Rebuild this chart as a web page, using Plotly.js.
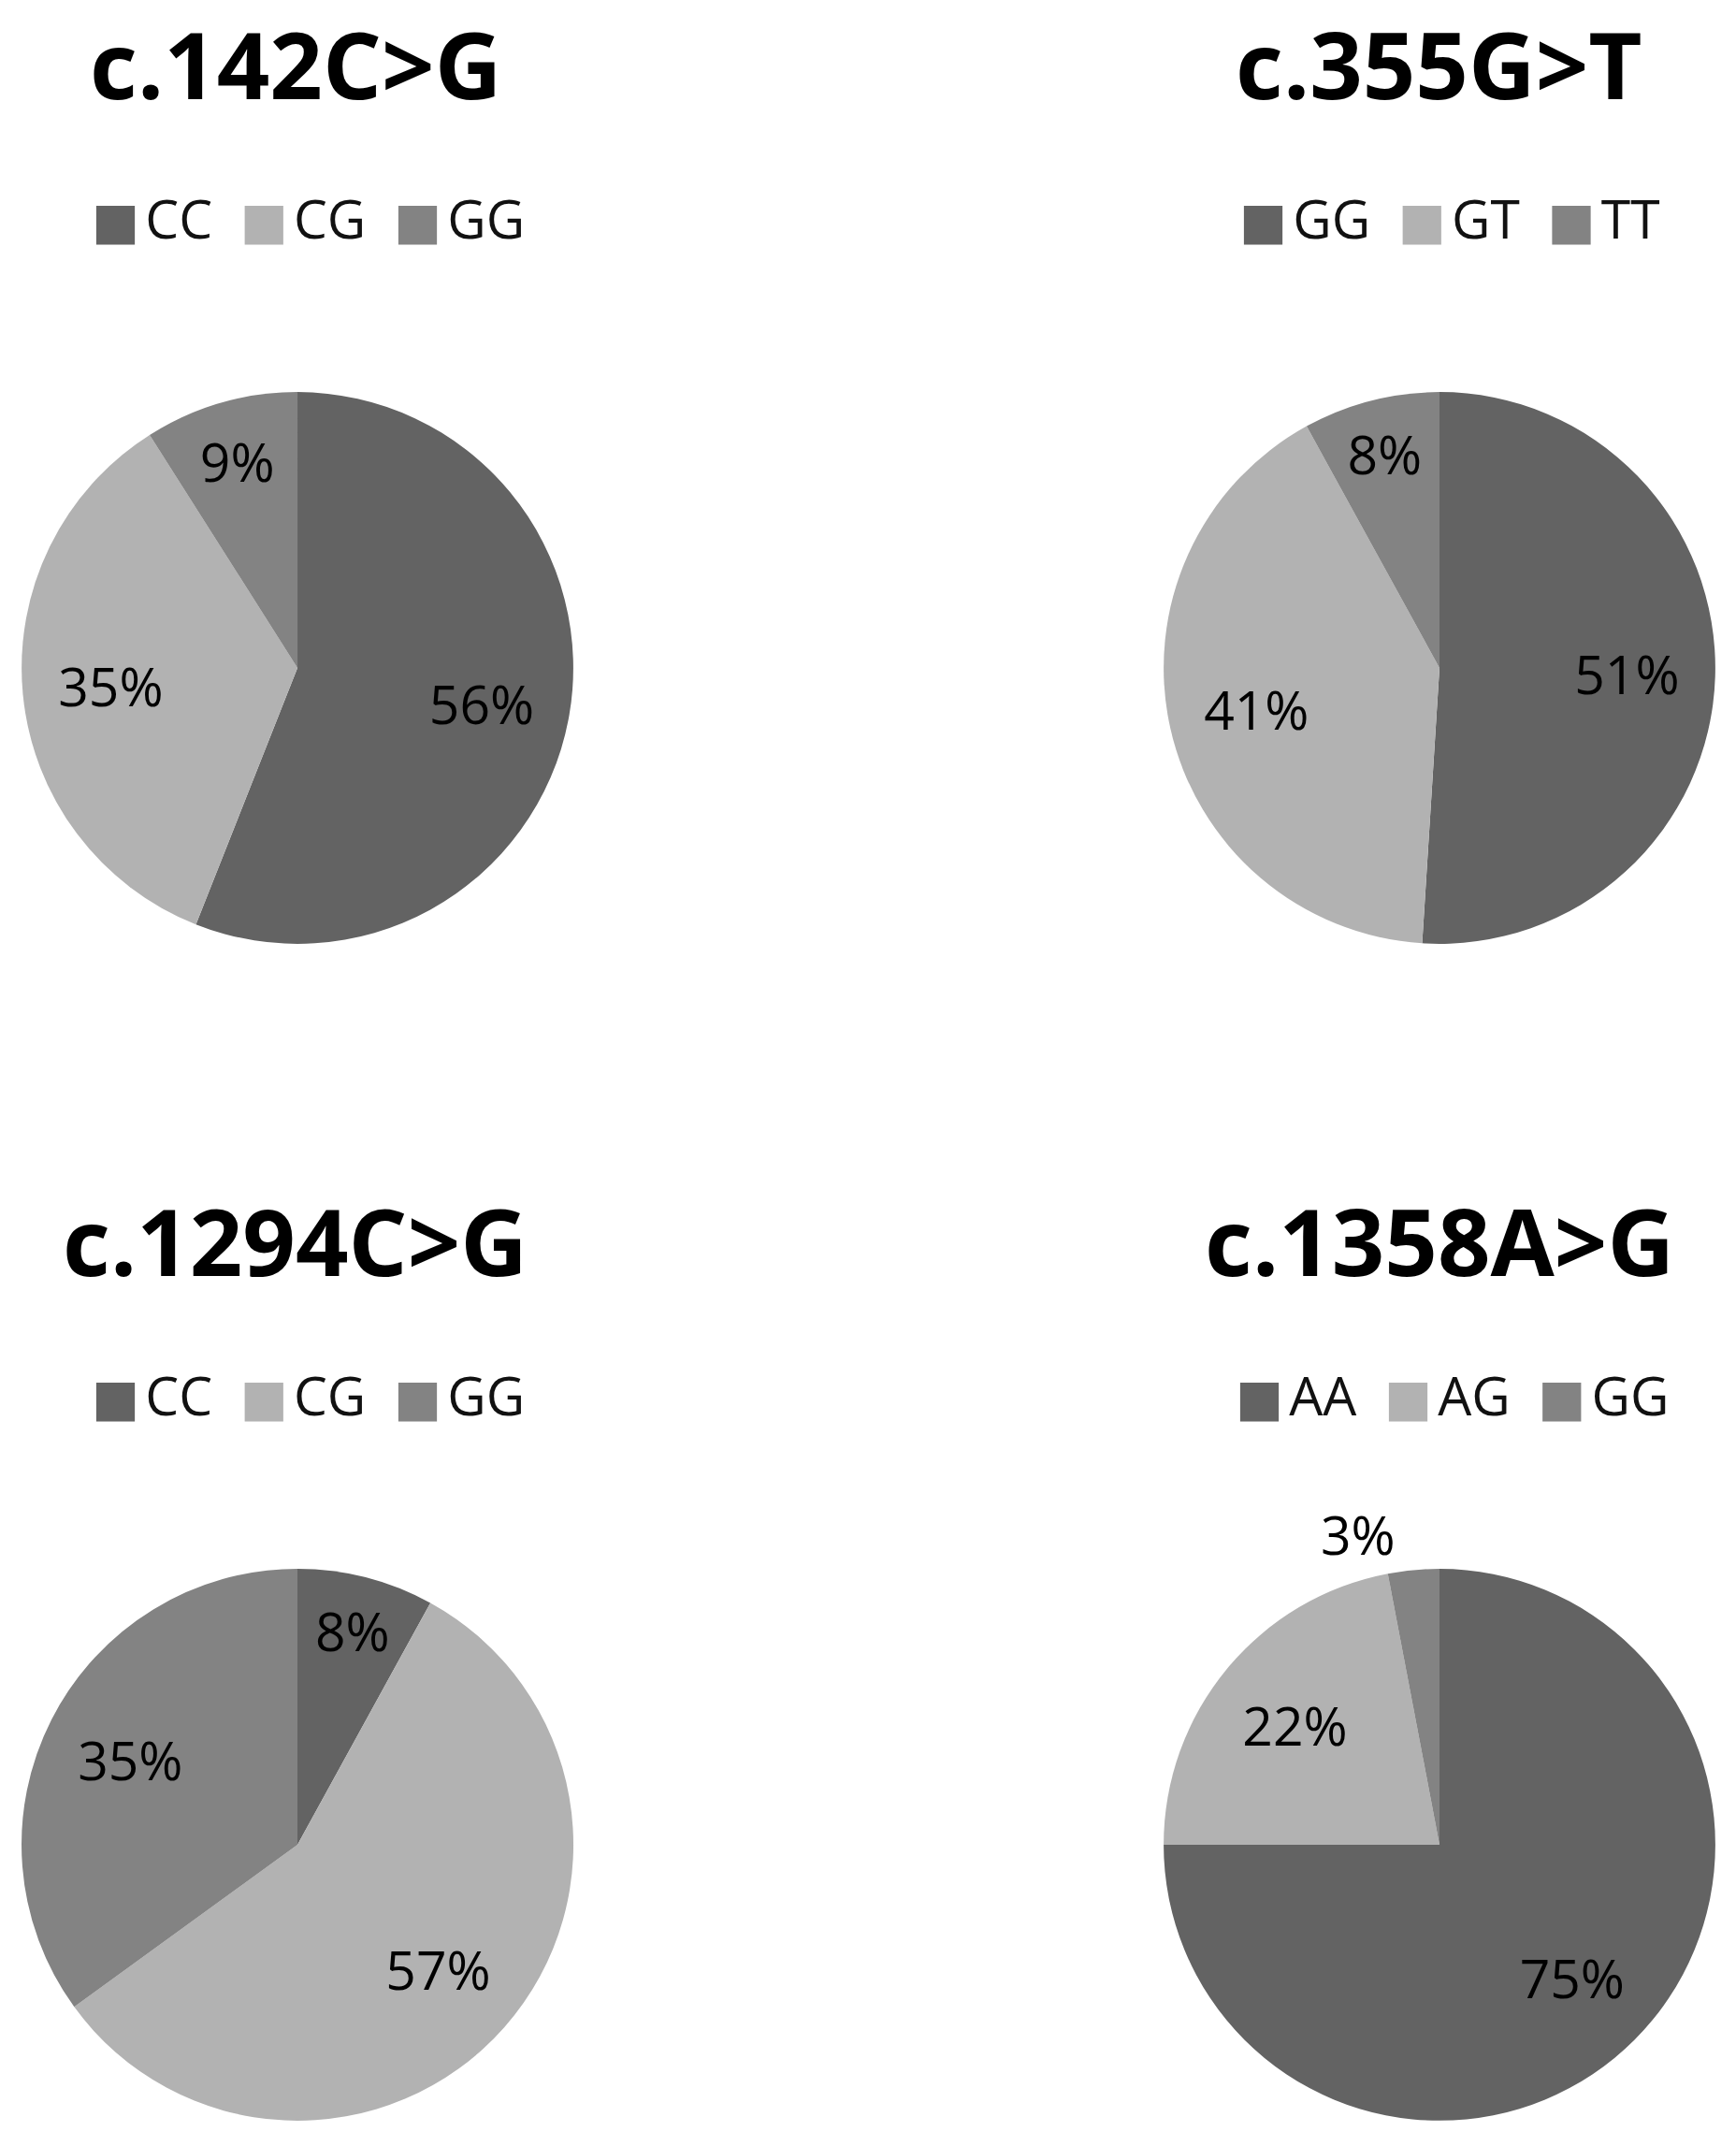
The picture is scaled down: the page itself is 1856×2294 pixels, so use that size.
<!DOCTYPE html>
<html>
<head>
<meta charset="utf-8">
<script src="https://cdn.plot.ly/plotly-3.0.1.min.js"></script>
<style>
  html, body { margin: 0; padding: 0; background: #ffffff; }
  #chart { width: 1856px; height: 2294px; }
</style>
</head>
<body>
<div id="chart"></div>
<script>
// ---- data ----
const titles = ['c.142C>G', 'c.355G>T', 'c.1294C>G', 'c.1358A>G'];

const labels142 = ['CC', 'CG', 'GG'];
const values142 = [56, 35, 9];

const labels355 = ['GG', 'GT', 'TT'];
const values355 = [51, 41, 8];

const labels1294 = ['CC', 'CG', 'GG'];
const values1294 = [8, 57, 35];

const labels1358 = ['AA', 'AG', 'GG'];
const values1358 = [75, 22, 3];

const sliceColors = ['#636363', '#b2b2b2', '#838383'];

// ---- layout config ----
const W = 1856, H = 2294;
const panels = [
  { labels: labels142,  values: values142,  pos: ['inside', 'inside', 'inside'],
    domain: { x: [0.0124, 0.3303], y: [0.5602, 0.8173] }, titleX: 0.170, titleY: 68, legX: 0.1773, legY: 233 },
  { labels: labels355,  values: values355,  pos: ['inside', 'inside', 'inside'],
    domain: { x: [0.6703, 0.9881], y: [0.5602, 0.8173] }, titleX: 0.829, titleY: 68, legX: 0.8353, legY: 233 },
  { labels: labels1294, values: values1294, pos: ['inside', 'inside', 'inside'],
    domain: { x: [0.0124, 0.3303], y: [0.0118, 0.2690] }, titleX: 0.170, titleY: 1325, legX: 0.1773, legY: 1491 },
  { labels: labels1358, values: values1358, pos: ['inside', 'inside', 'outside'],
    domain: { x: [0.6703, 0.9881], y: [0.0118, 0.2690] }, titleX: 0.829, titleY: 1325, legX: 0.8365, legY: 1491 }
];

const traces = [];
panels.forEach(p => {
  // filled slices
  traces.push({
    type: 'pie',
    labels: p.labels,
    values: p.values,
    sort: false,
    direction: 'clockwise',
    rotation: 0,
    domain: p.domain,
    marker: { colors: sliceColors, line: { width: 0 } },
    textinfo: 'none',
    hoverinfo: 'label+percent',
    showlegend: false
  });
  // percentage labels (transparent ring so labels sit in the outer part of each slice)
  traces.push({
    type: 'pie',
    labels: p.labels,
    values: p.values,
    sort: false,
    direction: 'clockwise',
    rotation: 0,
    hole: 0.36,
    domain: p.domain,
    marker: { colors: ['rgba(0,0,0,0)', 'rgba(0,0,0,0)', 'rgba(0,0,0,0)'], line: { width: 0 } },
    textinfo: 'percent',
    textposition: p.pos,
    insidetextorientation: 'horizontal',
    textfont: { family: 'Open Sans, sans-serif', size: 57, color: '#000000' },
    hoverinfo: 'skip',
    showlegend: false
  });
});

const annotations = [];
panels.forEach((p, i) => {
  annotations.push({
    xref: 'paper', yref: 'paper',
    x: p.titleX, y: 1 - p.titleY / H,
    xanchor: 'center', yanchor: 'middle',
    showarrow: false,
    text: '<b>' + titles[i].replace('>', '&gt;') + '</b>',
    font: { family: 'Open Sans, sans-serif', size: 99, color: '#000000' }
  });
  const legendText = p.labels.map((lab, k) =>
    '<span style="color:' + sliceColors[k] + ';font-family:\'DejaVu Sans\';font-size:54px">■</span>' +
    '<span style="font-size:24px">&nbsp;</span>' + lab
  ).join('&nbsp;&nbsp;');
  annotations.push({
    xref: 'paper', yref: 'paper',
    x: p.legX, y: 1 - p.legY / H,
    xanchor: 'center', yanchor: 'middle',
    showarrow: false,
    text: legendText,
    font: { family: 'Open Sans, sans-serif', size: 57, color: '#111111' }
  });
});

const layout = {
  width: W, height: H,
  margin: { l: 0, r: 0, t: 0, b: 0 },
  paper_bgcolor: '#ffffff',
  plot_bgcolor: '#ffffff',
  showlegend: false,
  uniformtext: { mode: 'show', minsize: 57 },
  annotations: annotations
};

Plotly.newPlot('chart', traces, layout, { staticPlot: true });
</script>
</body>
</html>
